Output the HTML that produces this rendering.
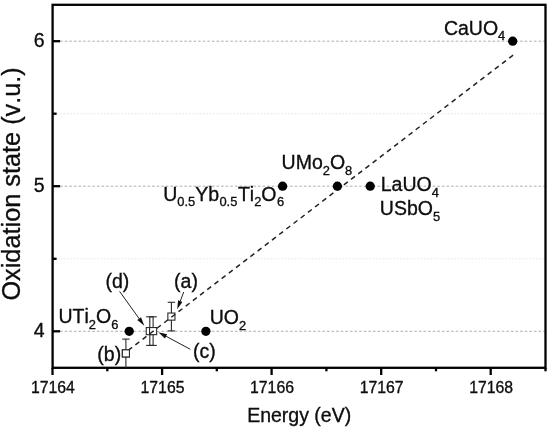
<!DOCTYPE html>
<html><head><meta charset="utf-8"><title>Oxidation state vs Energy</title>
<style>html,body{margin:0;padding:0;background:#fff;}body{width:550px;height:428px;overflow:hidden;}svg{display:block;}text{font-kerning:none;font-family:"Liberation Sans",Arial,sans-serif;fill:#0a0a0a;stroke:#0a0a0a;stroke-width:0.3px;}</style></head><body>
<svg width="550" height="428" viewBox="0 0 550 428">
<defs><filter id="soft" x="-2%" y="-2%" width="104%" height="104%"><feGaussianBlur stdDeviation="0.45"/></filter></defs>
<rect width="550" height="428" fill="#fff"/>
<g filter="url(#soft)">
<line x1="60.1" x2="545.5" y1="331.3" y2="331.3" stroke="#aeaeae" stroke-width="1" stroke-dasharray="2.6 2"/>
<line x1="60.1" x2="545.5" y1="186.2" y2="186.2" stroke="#aeaeae" stroke-width="1" stroke-dasharray="2.6 2"/>
<line x1="60.1" x2="545.5" y1="41.2" y2="41.2" stroke="#aeaeae" stroke-width="1" stroke-dasharray="2.6 2"/>
<line x1="56.6" x2="545.5" y1="258.8" y2="258.8" stroke="#e6e6e6" stroke-width="1" stroke-dasharray="1.7 1.7"/>
<line x1="56.6" x2="545.5" y1="113.7" y2="113.7" stroke="#e6e6e6" stroke-width="1" stroke-dasharray="1.7 1.7"/>
<rect x="52.6" y="4.8" width="492.9" height="363.0" fill="none" stroke="#000" stroke-width="2.3"/>
<line x1="52.6" x2="60.1" y1="331.3" y2="331.3" stroke="#000" stroke-width="2.3"/>
<text x="44.6" y="337.1" font-size="19.5" text-anchor="end">4</text>
<line x1="52.6" x2="60.1" y1="186.2" y2="186.2" stroke="#000" stroke-width="2.3"/>
<text x="44.6" y="192.1" font-size="19.5" text-anchor="end">5</text>
<line x1="52.6" x2="60.1" y1="41.2" y2="41.2" stroke="#000" stroke-width="2.3"/>
<text x="44.6" y="47.0" font-size="19.5" text-anchor="end">6</text>
<line x1="52.6" x2="56.6" y1="258.8" y2="258.8" stroke="#000" stroke-width="2.3"/>
<line x1="52.6" x2="56.6" y1="113.7" y2="113.7" stroke="#000" stroke-width="2.3"/>
<line x1="52.5" x2="52.5" y1="367.8" y2="375.0" stroke="#000" stroke-width="2.3"/>
<text x="52.9" y="392.9" font-size="15.8" text-anchor="middle">17164</text>
<line x1="107.3" x2="107.3" y1="367.8" y2="371.3" stroke="#000" stroke-width="2.3"/>
<line x1="162.1" x2="162.1" y1="367.8" y2="375.0" stroke="#000" stroke-width="2.3"/>
<text x="162.5" y="392.9" font-size="15.8" text-anchor="middle">17165</text>
<line x1="216.8" x2="216.8" y1="367.8" y2="371.3" stroke="#000" stroke-width="2.3"/>
<line x1="271.6" x2="271.6" y1="367.8" y2="375.0" stroke="#000" stroke-width="2.3"/>
<text x="272.0" y="392.9" font-size="15.8" text-anchor="middle">17166</text>
<line x1="326.4" x2="326.4" y1="367.8" y2="371.3" stroke="#000" stroke-width="2.3"/>
<line x1="381.2" x2="381.2" y1="367.8" y2="375.0" stroke="#000" stroke-width="2.3"/>
<text x="381.6" y="392.9" font-size="15.8" text-anchor="middle">17167</text>
<line x1="436.0" x2="436.0" y1="367.8" y2="371.3" stroke="#000" stroke-width="2.3"/>
<line x1="490.7" x2="490.7" y1="367.8" y2="375.0" stroke="#000" stroke-width="2.3"/>
<text x="491.1" y="392.9" font-size="15.8" text-anchor="middle">17168</text>
<line x1="545.5" x2="545.5" y1="367.8" y2="371.3" stroke="#000" stroke-width="2.3"/>
<text x="299.2" y="422.4" font-size="19.5" text-anchor="middle">Energy (eV)</text>
<text transform="translate(19.6 183.9) rotate(-90)" font-size="25.3" text-anchor="middle">Oxidation state (v.u.)</text>
<g stroke="#2a2a2a" stroke-width="1.1" fill="none"><line x1="125.9" x2="125.9" y1="339.1" y2="367.7"/><line x1="122.2" x2="129.6" y1="339.1" y2="339.1"/></g>
<g stroke="#2a2a2a" stroke-width="1.1" fill="none"><line x1="149.8" x2="149.8" y1="316.8" y2="345.4"/><line x1="146.10000000000002" x2="153.5" y1="316.8" y2="316.8"/><line x1="146.10000000000002" x2="153.5" y1="345.4" y2="345.4"/></g>
<g stroke="#2a2a2a" stroke-width="1.1" fill="none"><line x1="153.1" x2="153.1" y1="316.8" y2="345.4"/><line x1="149.4" x2="156.79999999999998" y1="316.8" y2="316.8"/><line x1="149.4" x2="156.79999999999998" y1="345.4" y2="345.4"/></g>
<g stroke="#2a2a2a" stroke-width="1.1" fill="none"><line x1="171.4" x2="171.4" y1="302.3" y2="330.9"/><line x1="167.70000000000002" x2="175.1" y1="302.3" y2="302.3"/><line x1="167.70000000000002" x2="175.1" y1="330.9" y2="330.9"/></g>
<rect x="122.35" y="349.85" width="7.1" height="7.1" fill="#fff" stroke="#2a2a2a" stroke-width="1.1"/>
<rect x="146.25" y="327.55" width="7.1" height="7.1" fill="#fff" stroke="#2a2a2a" stroke-width="1.1"/>
<rect x="149.55" y="327.55" width="7.1" height="7.1" fill="#fff" stroke="#2a2a2a" stroke-width="1.1"/>
<rect x="167.85" y="313.05" width="7.1" height="7.1" fill="#fff" stroke="#2a2a2a" stroke-width="1.1"/>
<line x1="513.1" y1="55.1" x2="126.0" y2="352.0" stroke="#222" stroke-width="1.5" stroke-dasharray="4.9 4.16"/>
<rect x="122.35" y="349.85" width="7.1" height="7.1" fill="#fff" stroke="#2a2a2a" stroke-width="1.1"/>
<circle cx="512.7" cy="41.2" r="4.65" fill="#000"/>
<circle cx="370.2" cy="186.2" r="4.65" fill="#000"/>
<circle cx="337.4" cy="186.2" r="4.65" fill="#000"/>
<circle cx="282.6" cy="186.2" r="4.65" fill="#000"/>
<circle cx="205.9" cy="331.3" r="4.65" fill="#000"/>
<circle cx="129.2" cy="331.3" r="4.65" fill="#000"/>
<text x="443.9" y="34.5" font-size="19.5" text-anchor="start"><tspan dy="0">CaUO</tspan><tspan font-size="12.9" dy="5.6">4</tspan></text>
<text x="281.6" y="169.0" font-size="19.5" text-anchor="start"><tspan dy="0">UMo</tspan><tspan font-size="12.9" dy="5.6">2</tspan><tspan dy="-5.6">O</tspan><tspan font-size="12.9" dy="5.6">8</tspan></text>
<text x="163.2" y="200.6" font-size="19.5" text-anchor="start"><tspan dy="0">U</tspan><tspan font-size="12.9" dy="5.6">0.5</tspan><tspan dy="-5.6">Yb</tspan><tspan font-size="12.9" dx="0.3" dy="5.6">0.5</tspan><tspan dx="0.6" dy="-5.6">Ti</tspan><tspan font-size="12.9" dy="5.6">2</tspan><tspan dy="-5.6">O</tspan><tspan font-size="12.9" dx="0.5" dy="5.6">6</tspan></text>
<text x="380.7" y="191.2" font-size="19.5" text-anchor="start"><tspan dy="0">LaUO</tspan><tspan font-size="12.9" dy="5.6">4</tspan></text>
<text x="379.8" y="214.9" font-size="19.5" text-anchor="start"><tspan dy="0">USbO</tspan><tspan font-size="12.9" dy="5.6">5</tspan></text>
<text x="58.5" y="323.4" font-size="19.5" text-anchor="start"><tspan dy="0">UTi</tspan><tspan font-size="12.9" dy="5.6">2</tspan><tspan dy="-5.6">O</tspan><tspan font-size="12.9" dy="5.6">6</tspan></text>
<text x="209.7" y="323.9" font-size="19.5" text-anchor="start"><tspan dy="0">UO</tspan><tspan font-size="12.9" dy="5.6">2</tspan></text>
<text x="105.5" y="287.9" font-size="19.5">(d)</text>
<text x="174.1" y="287.8" font-size="19.5">(a)</text>
<text x="97.3" y="360.6" font-size="19.5">(b)</text>
<text x="193.1" y="357.8" font-size="19.5">(c)</text>
<line x1="119.6" y1="291.4" x2="139.2" y2="318.7" stroke="#222" stroke-width="1"/>
<polygon points="144.3,325.8 137.3,320.0 141.0,317.3" fill="#111"/>
<line x1="183.7" y1="292.0" x2="180.3" y2="301.1" stroke="#222" stroke-width="1"/>
<polygon points="177.2,309.3 178.1,300.3 182.4,301.9" fill="#111"/>
<line x1="190.3" y1="349.3" x2="166.1" y2="336.3" stroke="#222" stroke-width="1"/>
<polygon points="158.3,332.2 167.1,334.3 165.0,338.4" fill="#111"/>
</g>
</svg></body></html>
